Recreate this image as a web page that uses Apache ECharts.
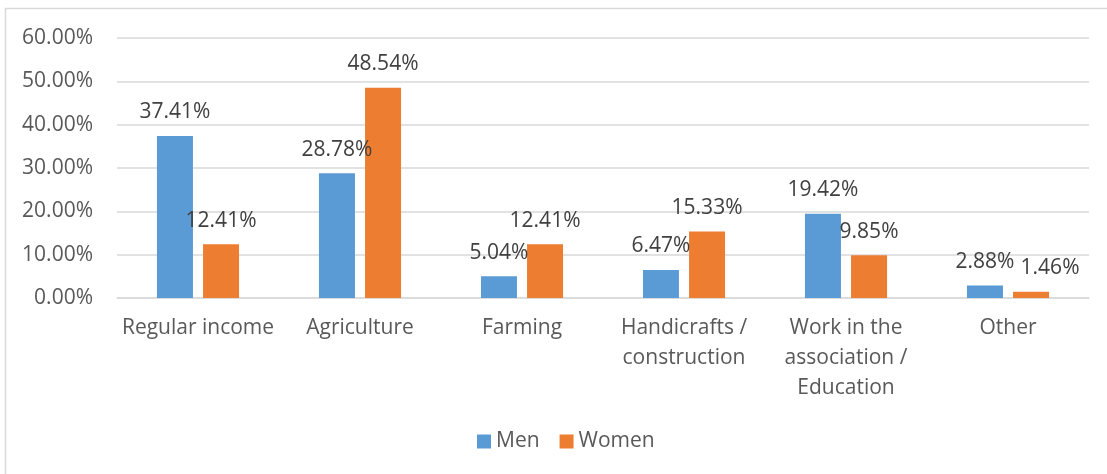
<!DOCTYPE html>
<html>
<head>
<meta charset="utf-8">
<style>
  html, body { margin: 0; padding: 0; background: #fff; }
  #chart { width: 1107px; height: 474px; }
</style>
<script src="https://cdn.jsdelivr.net/npm/echarts@6/dist/echarts.min.js"></script>
</head>
<body>
<div id="chart"></div>
<script>
// Income sources by gender (percent of respondents)
const categories = [
  'Regular income',
  'Agriculture',
  'Farming',
  'Handicrafts /\nconstruction',
  'Work in the\nassociation /\nEducation',
  'Other'
];
const menValues = [37.41, 28.78, 5.04, 6.47, 19.42, 2.88];
const womenValues = [12.41, 48.54, 12.41, 15.33, 9.85, 1.46];
const seriesNames = ['Men', 'Women'];

const FONT = '"Open Sans", "Noto Sans", sans-serif';
const TEXT = '#595959';
const SIZE = 21;

const pct = v => v.toFixed(2) + '%';

const chart = echarts.init(document.getElementById('chart'), null, { renderer: 'canvas' });

const labelStyle = {
  show: true,
  position: 'top',
  distance: 13,
  color: '#404040',
  fontFamily: FONT,
  fontSize: SIZE,
  formatter: p => pct(p.value)
};

// The last women's label is nudged right so it clears its neighbour.
const womenData = womenValues.map((v, i) =>
  i === womenValues.length - 1 ? { value: v, label: { offset: [19, 0] } } : v
);

chart.setOption({
  animation: false,
  backgroundColor: '#fff',
  graphic: [{
    type: 'rect',
    shape: { x: 5.5, y: 8.5, width: 1300, height: 700 },
    style: { fill: 'none', stroke: '#D9D9D9', lineWidth: 1.5 },
    silent: true
  }],
  grid: { left: 117, right: 18, top: 38, bottom: 176 },
  legend: {
    data: seriesNames,
    bottom: 17,
    left: 472,
    itemWidth: 14,
    itemHeight: 14,
    itemGap: 20,
    icon: 'rect',
    textStyle: { color: TEXT, fontFamily: FONT, fontSize: SIZE }
  },
  xAxis: {
    type: 'category',
    data: categories,
    axisLine: { lineStyle: { color: '#D9D9D9', width: 1.5 } },
    axisTick: { show: false },
    axisLabel: {
      color: TEXT,
      fontFamily: FONT,
      fontSize: SIZE,
      lineHeight: 30,
      margin: 15,
      interval: 0
    }
  },
  yAxis: {
    type: 'value',
    min: 0,
    max: 60,
    interval: 10,
    axisLine: { show: false },
    axisTick: { show: false },
    splitLine: { lineStyle: { color: '#D9D9D9', width: 1.5 } },
    axisLabel: {
      color: TEXT,
      fontFamily: FONT,
      fontSize: SIZE,
      margin: 24,
      formatter: v => pct(v)
    }
  },
  series: [
    {
      name: seriesNames[0],
      type: 'bar',
      data: menValues,
      barWidth: 36,
      barGap: '28%',
      itemStyle: { color: '#5B9BD5' },
      label: labelStyle
    },
    {
      name: seriesNames[1],
      type: 'bar',
      data: womenData,
      barWidth: 36,
      itemStyle: { color: '#ED7D31' },
      label: labelStyle
    }
  ]
});
</script>
</body>
</html>
